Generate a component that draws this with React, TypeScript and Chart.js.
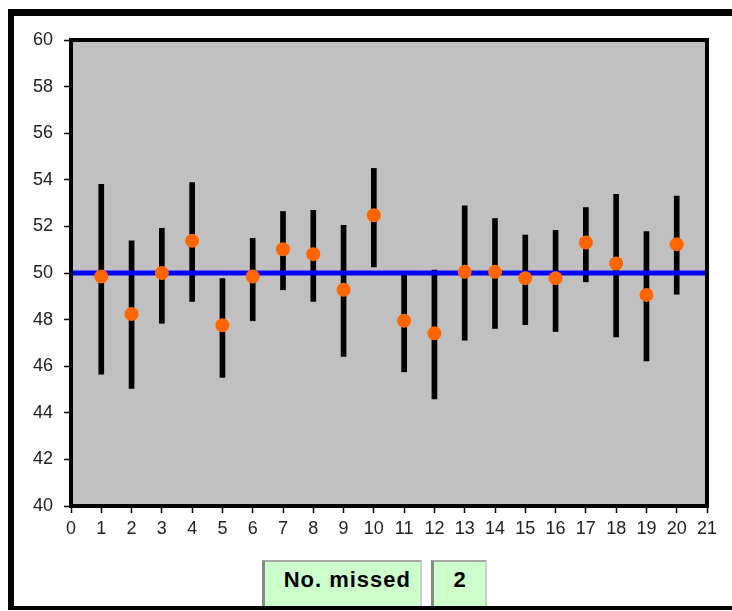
import React, { useEffect, useRef } from "react";
import { Chart, registerables } from "chart.js";

Chart.register(...registerables);

// ---- data ----
const sampleNumbers = [1, 2, 3, 4, 5, 6, 7, 8, 9, 10, 11, 12, 13, 14, 15, 16, 17, 18, 19, 20];
const sampleMeans = [49.85, 48.24, 50.0, 51.38, 47.76, 49.85, 51.02, 50.81, 49.28, 52.48, 47.95, 47.41, 50.05, 50.05, 49.78, 49.78, 51.31, 50.41, 49.06, 51.23];
const lowerLimits = [45.66, 45.05, 47.84, 48.78, 45.52, 47.95, 49.28, 48.78, 46.42, 50.26, 45.76, 44.6, 47.12, 47.62, 47.78, 47.49, 49.62, 47.26, 46.23, 49.09];
const upperLimits = [53.81, 51.38, 51.92, 53.88, 49.76, 51.49, 52.64, 52.69, 52.05, 54.49, 49.95, 50.12, 52.88, 52.34, 51.63, 51.83, 52.81, 53.38, 51.78, 53.3];
const trueMeanLine = [
  { x: 0, y: 50 },
  { x: 21, y: 50 },
];
const xRange = [0, 21];
const yRange = [40, 60];
const yStep = 2;
const missedLabel = "No. missed";
const missedCount = "2";

const plotFrame = {
  id: "plotFrame",
  beforeDraw(chart: any) {
    const { ctx, chartArea } = chart;
    const { left, top, right, bottom } = chartArea;
    ctx.save();
    ctx.fillStyle = "#c0c0c0";
    ctx.fillRect(left, top, right - left, bottom - top);
    ctx.restore();
  },
  afterDraw(chart: any) {
    const { ctx, chartArea } = chart;
    const { left, top, right, bottom } = chartArea;
    ctx.save();
    ctx.strokeStyle = "#000";
    ctx.lineWidth = 4;
    ctx.strokeRect(left, top, right - left, bottom - top);
    ctx.restore();
  },
};

function ConfidenceChart() {
  const ref = useRef<HTMLCanvasElement | null>(null);
  useEffect(() => {
    if (!ref.current) return;
    const tickFont = { family: "'Liberation Sans', Arial, sans-serif", size: 18 };
    const chart = new Chart(ref.current, {
      type: "bar",
      data: {
        datasets: [
          {
            type: "scatter",
            label: "means",
            data: sampleNumbers.map((x, i) => ({ x, y: sampleMeans[i] })),
            backgroundColor: "#ff6600",
            borderWidth: 0,
            pointRadius: 7,
            order: 0,
          } as any,
          {
            type: "line",
            label: "true mean",
            data: trueMeanLine,
            borderColor: "#0000ff",
            borderWidth: 5,
            pointRadius: 0,
            fill: false,
            order: 1,
          } as any,
          {
            type: "bar",
            label: "intervals",
            data: sampleNumbers.map((x, i) => ({ x, y: [lowerLimits[i], upperLimits[i]] })),
            backgroundColor: "#000",
            borderWidth: 0,
            barThickness: 5,
            order: 2,
          } as any,
        ],
      },
      options: {
        animation: false,
        responsive: false,
        maintainAspectRatio: false,
        devicePixelRatio: 1,
        events: [],
        layout: { padding: { left: 0, top: 40, right: 25, bottom: 75 } },
        plugins: { legend: { display: false }, tooltip: { enabled: false } },
        scales: {
          x: {
            type: "linear",
            min: xRange[0],
            max: xRange[1],
            offset: false,
            afterFit: (s: any) => {
              s.height = 30;
            },
            ticks: { stepSize: 1, font: tickFont, color: "#222", padding: 5, maxRotation: 0, autoSkip: false },
            grid: { display: true, offset: false, drawOnChartArea: false, drawTicks: true, tickLength: 7, tickWidth: 1.5, tickColor: "#000" },
            border: { display: false },
          },
          y: {
            type: "linear",
            min: yRange[0],
            max: yRange[1],
            afterFit: (s: any) => {
              s.width = 71;
            },
            ticks: { stepSize: yStep, font: tickFont, color: "#222", padding: 11 },
            grid: { display: true, drawOnChartArea: false, drawTicks: true, tickLength: 7, tickWidth: 1.5, tickColor: "#000" },
            border: { display: false },
          },
        },
      } as any,
      plugins: [plotFrame],
    });
    return () => chart.destroy();
  }, []);
  return (
    <canvas
      ref={ref}
      width={732}
      height={611}
      style={{ position: "absolute", left: 0, top: 0, width: 732, height: 611 }}
    />
  );
}

export default function App() {
  const boxBase: React.CSSProperties = {
    position: "absolute",
    top: 560,
    height: 46,
    boxSizing: "border-box",
    background: "#ccffcc",
    borderTop: "2px solid #a8a8a8",
    borderLeft: "3px solid #888",
    borderRight: "2px solid #cfcfcf",
    fontFamily: "'Liberation Sans', Arial, sans-serif",
    fontWeight: "bold",
    fontSize: 22,
    color: "#000",
    lineHeight: "36px",
  };
  return (
    <div
      style={{
        position: "absolute",
        left: 0,
        top: 0,
        width: 732,
        height: 611,
        overflow: "hidden",
        background: "#fff",
      }}
    >
      <div
        style={{
          position: "absolute",
          left: 8,
          top: 9,
          width: 800,
          height: 601,
          boxSizing: "border-box",
          borderLeft: "6px solid #000",
          borderTop: "7px solid #000",
          borderBottom: "4px solid #000",
        }}
      />
      <ConfidenceChart />
      <div style={{ ...boxBase, left: 262, width: 160, textAlign: "right", paddingRight: 9, letterSpacing: "1px" }}>
        {missedLabel}
      </div>
      <div style={{ ...boxBase, left: 431, width: 56, textAlign: "center" }}>{missedCount}</div>
    </div>
  );
}
